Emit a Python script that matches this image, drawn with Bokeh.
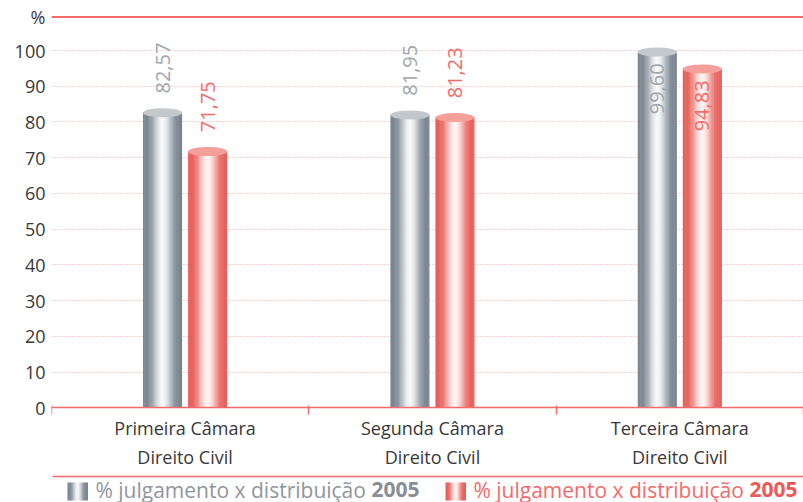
import numpy as np
from bokeh.plotting import figure
from bokeh.models import Range1d, FixedTicker, Span
from bokeh.embed import file_html
from bokeh.resources import INLINE
from bokeh.core.properties import value

# ---------------- data ----------------
CATEGORIES = ["Primeira Câmara\nDireito Civil",
              "Segunda Câmara\nDireito Civil",
              "Terceira Câmara\nDireito Civil"]
GREY_VALUES = [82.57, 81.95, 99.60]
RED_VALUES = [71.75, 81.23, 94.83]
SERIES_TEXT = ["% julgamento x distribuição", "% julgamento x distribuição"]
SERIES_YEAR = ["2005", "2005"]
Y_TICKS = [0, 10, 20, 30, 40, 50, 60, 70, 80, 90, 100]
Y_UNIT_LABEL = "%"
Y_UNIT_POS = 109.4

# ---------------- style ----------------
FONT = "Open Sans"
RED_LINE = "#f36b6b"
GREY_DARK, GREY_LIGHT = (122, 134, 145), (246, 247, 248)
RED_DARK, RED_LIGHT = (231, 96, 90), (255, 243, 241)
BAR_W = 0.158
BAR_OFF = 0.091
N_STRIPS = 32
FRAME_W, FRAME_H = 752, 502


def shade(dark, light, t):
    f = (0.5 * (1 + np.cos(np.pi * (t - 0.5) / 0.5))) ** 1.6
    c = [int(round(d + (l - d) * f)) for d, l in zip(dark, light)]
    return "#%02x%02x%02x" % tuple(c)


p = figure(width=803, height=502, output_backend="svg", toolbar_location=None,
           x_range=Range1d(-0.54, 2.5), y_range=Range1d(-26.5, 114.0),
           min_border_left=51, min_border_right=0, min_border_top=0,
           min_border_bottom=0)
p.outline_line_color = None
p.background_fill_color = "white"
p.border_fill_color = "white"
# pixel coordinate system for the legend strip
p.extra_x_ranges = {"px": Range1d(0, FRAME_W)}
p.extra_y_ranges = {"px": Range1d(0, FRAME_H)}

# grid
p.xgrid.visible = False
p.ygrid.ticker = FixedTicker(ticks=Y_TICKS[1:])
p.ygrid.grid_line_color = "#f5a3a3"
p.ygrid.grid_line_dash = "1 2"
p.ygrid.grid_line_width = 1.2

p.add_layout(Span(location=Y_UNIT_POS, dimension="width",
                  line_color=RED_LINE, line_width=2))

# y axis
yax = p.yaxis[0]
yax.ticker = FixedTicker(ticks=Y_TICKS + [Y_UNIT_POS])
yax.major_label_overrides = {Y_UNIT_POS: Y_UNIT_LABEL}
yax.axis_line_color = None
yax.major_tick_line_color = None
yax.major_tick_out = 0
yax.major_tick_in = 0
yax.minor_tick_line_color = None
yax.major_label_text_font = FONT
yax.major_label_text_font_size = "18px"
yax.major_label_text_color = "#383838"
yax.major_label_standoff = 6

# x axis (drawn at y = 0 inside the frame)
xax = p.xaxis[0]
xax.fixed_location = 0
cat_pos = list(range(len(CATEGORIES)))
xax.ticker = FixedTicker(ticks=cat_pos,
                         minor_ticks=[-0.54] + [c + 0.5 for c in cat_pos])
xax.major_label_overrides = {c: lab for c, lab in zip(cat_pos, CATEGORIES)}
xax.axis_line_color = RED_LINE
xax.axis_line_width = 1.5
xax.major_tick_line_color = None
xax.major_tick_out = 0
xax.major_tick_in = 0
xax.minor_tick_line_color = RED_LINE
xax.minor_tick_line_width = 1.5
xax.minor_tick_in = 2
xax.minor_tick_out = 7
xax.major_label_text_font = FONT
xax.major_label_text_font_size = "18px"
xax.major_label_text_color = "#383838"
xax.major_label_standoff = 1


def draw_bars(values, offset, dark, light, top_color, label_color):
    lefts, rights, tops, colors = [], [], [], []
    for i, v in enumerate(values):
        x0 = i + offset - BAR_W / 2
        sw = BAR_W / N_STRIPS
        for k in range(N_STRIPS):
            t = (k + 0.5) / N_STRIPS
            lefts.append(x0 + k * sw)
            rights.append(x0 + (k + 1) * sw + (sw * 0.4 if k < N_STRIPS - 1 else 0))
            tops.append(v)
            colors.append(shade(dark, light, t))
    p.quad(left=lefts, right=rights, top=tops, bottom=0,
           fill_color=colors, line_color=None)
    xs = [i + offset for i in range(len(values))]
    p.ellipse(x=xs, y=values, width=BAR_W, height=9, height_units="screen",
              fill_color=top_color, line_color=None)
    above = [(x, v) for x, v in zip(xs, values) if v + 21 <= Y_UNIT_POS]
    inside = [(x, v) for x, v in zip(xs, values) if v + 21 > Y_UNIT_POS]
    fmt = lambda v: f"{v:.2f}".replace(".", ",")
    if above:
        p.text(x=[a[0] for a in above], y=[a[1] + 5.4 for a in above],
               text=[fmt(a[1]) for a in above], angle=np.pi / 2,
               text_align="left", text_baseline="middle",
               text_font=value(FONT), text_font_size="20px",
               text_color=label_color)
    if inside:
        p.text(x=[a[0] for a in inside], y=[a[1] - 3.2 for a in inside],
               text=[fmt(a[1]) for a in inside], angle=np.pi / 2,
               text_align="right", text_baseline="middle",
               text_font=value(FONT), text_font_size="20px",
               text_color=label_color)


draw_bars(GREY_VALUES, -BAR_OFF, GREY_DARK, GREY_LIGHT, "#c3c8cc", "#a0a6ac")
draw_bars(RED_VALUES, BAR_OFF, RED_DARK, RED_LIGHT, "#f59f9b", "#f36a6a")

# ---------------- legend strip (pixel coordinates inside the frame) ----------------
p.segment(x0=[1], y0=[26], x1=[FRAME_W], y1=[26], line_color=RED_LINE,
          line_width=1.5, x_range_name="px", y_range_name="px")

legend_specs = [
    (16, GREY_DARK, GREY_LIGHT, "#8f969d", "#878e96"),
    (394, RED_DARK, RED_LIGHT, "#f26b6b", "#ef5858"),
]
for (sx, dark, light, tcol, bcol), txt, yr in zip(legend_specs, SERIES_TEXT, SERIES_YEAR):
    n = 10
    sw = 20 / n
    p.quad(left=[sx + k * sw for k in range(n)],
           right=[sx + (k + 1) * sw + 0.5 for k in range(n)],
           top=20, bottom=2,
           fill_color=[shade(dark, light, (k + 0.5) / n) for k in range(n)],
           line_color=None, x_range_name="px", y_range_name="px")
    p.text(x=[sx + 28], y=[13], text=[txt], text_align="left",
           text_baseline="middle", text_font=value(FONT),
           text_font_size="21px", text_color=tcol,
           x_range_name="px", y_range_name="px")
    p.text(x=[sx + 304], y=[13], text=[yr], text_align="left",
           text_baseline="middle", text_font=value(FONT),
           text_font_size="21px", text_font_style="bold", text_color=bcol,
           x_range_name="px", y_range_name="px")

open("out.html", "w").write(file_html(p, INLINE))
